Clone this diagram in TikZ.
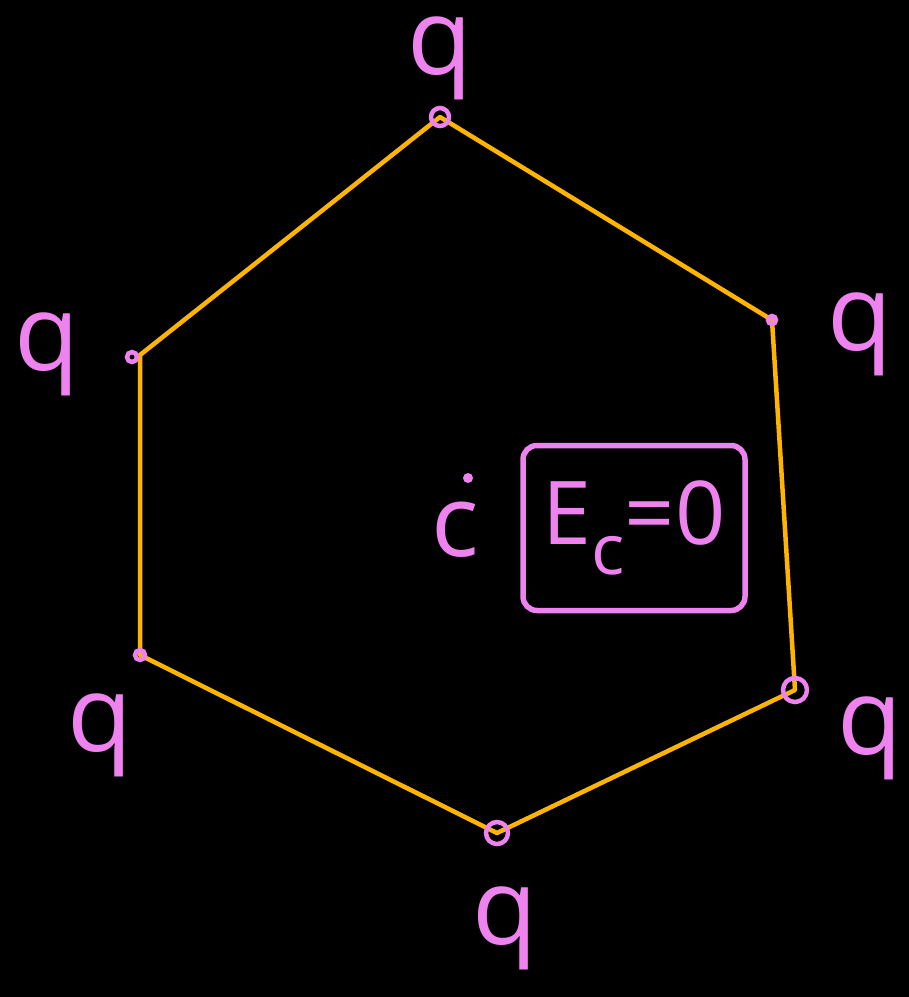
\documentclass[tikz,border=0pt]{standalone}
\usepackage{fontspec}
\setmainfont{Open Sans}
\definecolor{hexorange}{HTML}{FFB400}
\definecolor{inkpink}{HTML}{EE82EE}
\begin{document}
\begin{tikzpicture}[x=1pt,y=-1pt,
  edge/.style={draw=hexorange,line width=4.5pt,line cap=round,line join=round},
  lbl/.style={text=inkpink,font=\fontsize{106}{106}\selectfont,inner sep=0pt},
  vmark/.style={circle,draw=inkpink,line width=4.5pt,inner sep=0pt,minimum size=#1},
  ebox/.style={draw=inkpink,line width=5.5pt,rounded corners=14pt,minimum width=222pt,minimum height=165pt,text=inkpink,font=\fontsize{88}{88}\selectfont}]
\fill[black] (0,0) rectangle (909,997);
\useasboundingbox (0,0) rectangle (909,997);
% vertices
\coordinate (v1) at (440,117);
\coordinate (v2) at (772,320);
\coordinate (v3) at (795,690);
\coordinate (v4) at (497,833);
\coordinate (v5) at (140,655);
\coordinate (v6) at (140,355);
% hexagon
\draw[edge] (v1) -- (v2) -- (v3) -- (v4) -- (v5) -- (v6) -- cycle;
% vertex marks
\node[vmark=18pt] (m1) at (v1) {};
\node[vmark=8pt] (m2) at (v2) {};
\node[vmark=24pt] (m3) at (v3) {};
\node[vmark=22pt] (m4) at (v4) {};
\node[vmark=10pt] (m5) at (v5) {};
\node[vmark=10pt] (m6) at (132,357) {};
% labels
\node[lbl] (q1) at (440,58) {q};
\node[lbl] (q2) at (860,334) {q};
\node[lbl] (q3) at (870,738) {q};
\node[lbl] (q4) at (505,928) {q};
\node[lbl] (q5) at (47,354) {q};
\node[lbl] (q6) at (100,735) {q};
% centre
\node[text=inkpink,font=\fontsize{100}{100}\selectfont,inner sep=0pt] (c) at (455,530) {c};
\fill[inkpink] (468,478) circle (5pt);
\node[ebox] (box) at (634,528) {E\raisebox{-0.35em}{\fontsize{70}{70}\selectfont c}=0};
\end{tikzpicture}
\end{document}
